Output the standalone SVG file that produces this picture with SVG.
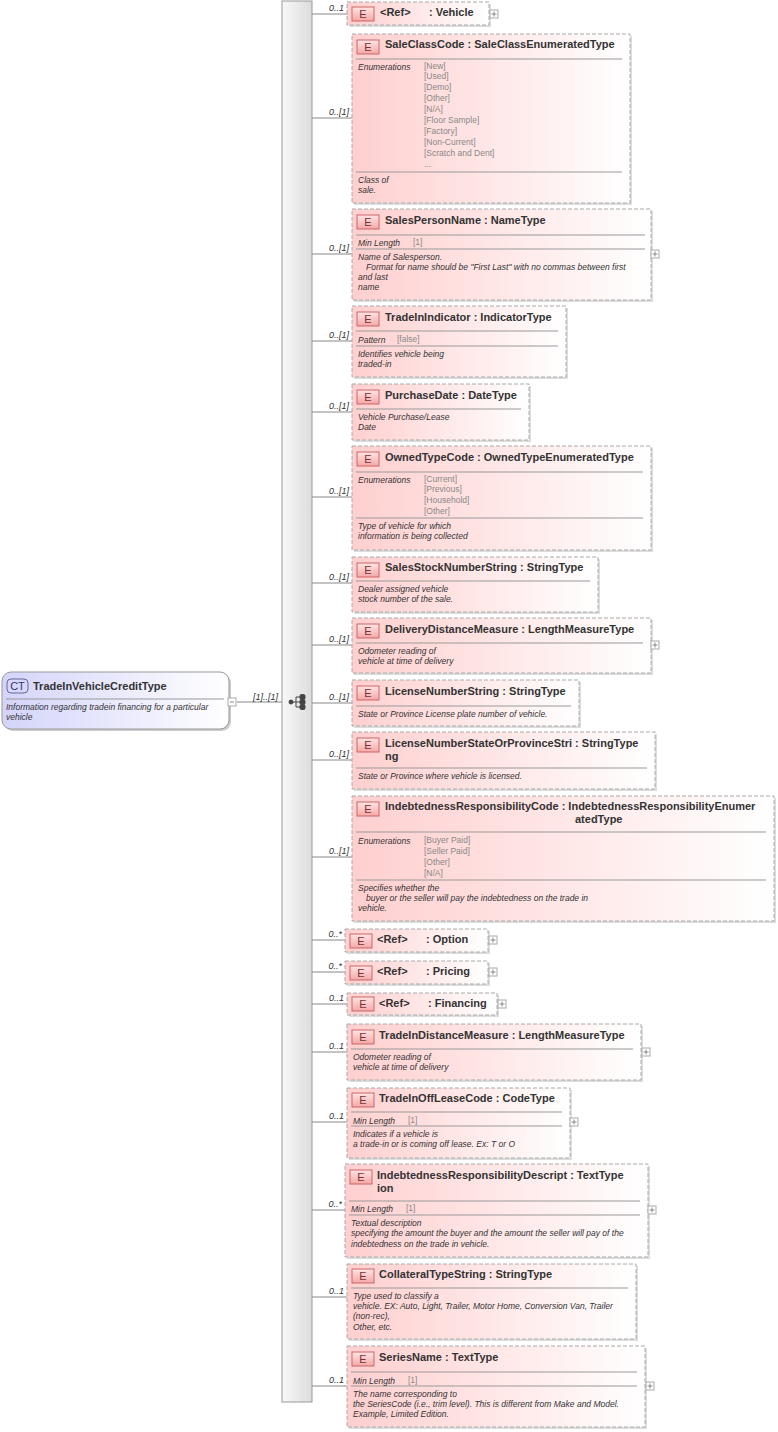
<svg xmlns="http://www.w3.org/2000/svg" width="778" height="1432" viewBox="0 0 778 1432">
<defs>
<linearGradient id="eg" x1="0" y1="0" x2="1" y2="0"><stop offset="0" stop-color="#ffcfcf"/><stop offset="1" stop-color="#ffffff"/></linearGradient>
<linearGradient id="cg" x1="0" y1="0" x2="1" y2="0"><stop offset="0" stop-color="#d4d4fb"/><stop offset="1" stop-color="#ffffff"/></linearGradient>
<linearGradient id="bg" x1="0" y1="0" x2="1" y2="0"><stop offset="0" stop-color="#f8f8f8"/><stop offset="1" stop-color="#dcdcdc"/></linearGradient>
<linearGradient id="badge" x1="0" y1="0" x2="0" y2="1"><stop offset="0" stop-color="#ffe4e4"/><stop offset="1" stop-color="#f4a8a8"/></linearGradient>
<g id="plus"><rect x="-4" y="-4" width="8" height="8" fill="#fff" stroke="#aaa"/><path d="M-2.5 0H2.5M0 -2.5V2.5" stroke="#888"/></g>
</defs>
<style>
.n{fill:url(#eg);stroke:#aaa;stroke-dasharray:4 2}
.sh{fill:#ddd}
.b{fill:url(#badge);stroke:#c66}
.bt{font:11px "Liberation Sans",Arial,sans-serif;fill:#733;text-anchor:middle}
.t{font:bold 11px "Liberation Sans",Arial,sans-serif;fill:#333}
.d{font:italic 8.5px "Liberation Sans",Arial,sans-serif;fill:#333}
.v{font:8.5px "Liberation Sans",Arial,sans-serif;fill:#888}
.m{font:italic 9px "Liberation Sans",Arial,sans-serif;fill:#333;text-anchor:end}
.sep{stroke:#999}
.c{stroke:#888;fill:none}
</style>
<rect x="282" y="1" width="30" height="1401" fill="url(#bg)" stroke="#999"/>
<g id="connectors" class="c">
<path d="M237 702H282"/>
<path d="M312 14H347M312 118H352M312 254H352M312 341H352M312 412H352M312 497H352M312 583H352M312 645H352M312 703H352M312 760H352M312 857H352M312 940H345M312 972H345M312 1004H347M312 1052H347M312 1122H347M312 1210H345M312 1297H347M312 1386H347"/>
</g>
<g id="seqicon" fill="#444" stroke="#444">
<circle cx="291" cy="702" r="2"/><path d="M291 702H296M296 697V707M296 697H301M296 702H301M296 707H301" fill="none"/>
<rect x="300" y="694.5" width="5" height="5" rx="1.5"/><rect x="300" y="699.5" width="5" height="5" rx="1.5"/><rect x="300" y="704.5" width="5" height="5" rx="1.5"/>
</g>
<g id="mult">
<text class="m" x="278" y="700">[1]..[1]</text>
<text class="m" x="344" y="11">0..1</text>
<text class="m" x="349" y="115">0..[1]</text>
<text class="m" x="349" y="251">0..[1]</text>
<text class="m" x="349" y="338">0..[1]</text>
<text class="m" x="349" y="409">0..[1]</text>
<text class="m" x="349" y="494">0..[1]</text>
<text class="m" x="349" y="580">0..[1]</text>
<text class="m" x="349" y="642">0..[1]</text>
<text class="m" x="349" y="700">0..[1]</text>
<text class="m" x="349" y="757">0..[1]</text>
<text class="m" x="349" y="854">0..[1]</text>
<text class="m" x="342" y="937">0..*</text>
<text class="m" x="342" y="969">0..*</text>
<text class="m" x="344" y="1001">0..1</text>
<text class="m" x="344" y="1049">0..1</text>
<text class="m" x="344" y="1119">0..1</text>
<text class="m" x="342" y="1207">0..*</text>
<text class="m" x="344" y="1294">0..1</text>
<text class="m" x="344" y="1383">0..1</text>
</g>
<g id="root">
<rect x="4" y="674" width="227" height="57" rx="9" fill="#ccc"/>
<rect x="2" y="672" width="227" height="57" rx="9" fill="url(#cg)" stroke="#999"/>
<rect x="7" y="679" width="21" height="14" rx="4" fill="#d8d8ff" stroke="#669"/>
<text x="17.5" y="690" style="font:11px 'Liberation Sans',sans-serif;fill:#336;text-anchor:middle">CT</text>
<text class="t" x="33" y="690">TradeInVehicleCreditType</text>
<path class="sep" d="M6 699H224"/>
<text class="d" x="6" y="710">Information regarding tradein financing for a particular</text>
<text class="d" x="6" y="720">vehicle</text>
<rect x="228" y="698" width="8" height="8" fill="#fff" stroke="#aaa"/><path d="M230 702H234" stroke="#888"/>
</g>
<g id="n1"><rect class="sh" x="349" y="4" width="142" height="23"/><rect class="n" x="347" y="2" width="142" height="23"/><rect class="b" x="352" y="7" width="22" height="14"/><text class="bt" x="363" y="18">E</text><text class="t" x="380" y="16">&lt;Ref&gt;</text><text class="t" x="429" y="16">: Vehicle</text><use href="#plus" x="494" y="14"/></g>
<g id="n2"><rect class="sh" x="354" y="36" width="278" height="169"/><rect class="n" x="352" y="34" width="278" height="169"/><rect class="b" x="357" y="40" width="22" height="14"/><text class="bt" x="368" y="51">E</text><text class="t" x="385" y="48">SaleClassCode : SaleClassEnumeratedType</text><path class="sep" d="M356 59H622M356 172H622"/><text class="d" x="358" y="70">Enumerations</text>
<text class="v" x="424" y="69">[New]</text><text class="v" x="424" y="79">[Used]</text><text class="v" x="424" y="90">[Demo]</text><text class="v" x="424" y="101">[Other]</text><text class="v" x="424" y="112">[N/A]</text><text class="v" x="424" y="123">[Floor Sample]</text><text class="v" x="424" y="134">[Factory]</text><text class="v" x="424" y="145">[Non-Current]</text><text class="v" x="424" y="156">[Scratch and Dent]</text><text class="v" x="424" y="167">...</text>
<text class="d" x="358" y="183">Class of</text><text class="d" x="358" y="193">sale.</text></g>
<g id="n3"><rect class="sh" x="354" y="211" width="299" height="91"/><rect class="n" x="352" y="209" width="299" height="91"/><rect class="b" x="357" y="215" width="22" height="14"/><text class="bt" x="368" y="226">E</text><text class="t" x="385" y="224">SalesPersonName : NameType</text><path class="sep" d="M356 235H645M356 249H645"/><text class="d" x="358" y="246">Min Length</text><text class="v" x="413" y="245">[1]</text>
<text class="d" x="358" y="260">Name of Salesperson.</text><text class="d" x="366" y="270">Format for name should be "First Last" with no commas between first</text><text class="d" x="358" y="280">and last</text><text class="d" x="358" y="290">name</text><use href="#plus" x="655" y="254"/></g>
<g id="n4"><rect class="sh" x="354" y="308" width="214" height="71"/><rect class="n" x="352" y="306" width="214" height="71"/><rect class="b" x="357" y="312" width="22" height="14"/><text class="bt" x="368" y="323">E</text><text class="t" x="385" y="321">TradeInIndicator : IndicatorType</text><path class="sep" d="M356 331H558M356 346H558"/><text class="d" x="358" y="343">Pattern</text><text class="v" x="397" y="342">[false]</text><text class="d" x="358" y="357">Identifies vehicle being</text><text class="d" x="358" y="367">traded-in</text></g>
<g id="n5"><rect class="sh" x="354" y="386" width="177" height="56"/><rect class="n" x="352" y="384" width="177" height="56"/><rect class="b" x="357" y="390" width="22" height="14"/><text class="bt" x="368" y="401">E</text><text class="t" x="385" y="399">PurchaseDate : DateType</text><path class="sep" d="M356 409H521"/><text class="d" x="358" y="420">Vehicle Purchase/Lease</text><text class="d" x="358" y="430">Date</text></g>
<g id="n6"><rect class="sh" x="354" y="448" width="299" height="104"/><rect class="n" x="352" y="446" width="299" height="104"/><rect class="b" x="357" y="452" width="22" height="14"/><text class="bt" x="368" y="463">E</text><text class="t" x="385" y="461">OwnedTypeCode : OwnedTypeEnumeratedType</text><path class="sep" d="M356 472H643M356 518H643"/><text class="d" x="358" y="483">Enumerations</text><text class="v" x="424" y="482">[Current]</text><text class="v" x="424" y="492">[Previous]</text><text class="v" x="424" y="503">[Household]</text><text class="v" x="424" y="514">[Other]</text><text class="d" x="358" y="529">Type of vehicle for which</text><text class="d" x="358" y="539">information is being collected</text></g>
<g id="n7"><rect class="sh" x="354" y="559" width="246" height="55"/><rect class="n" x="352" y="557" width="246" height="55"/><rect class="b" x="357" y="563" width="22" height="14"/><text class="bt" x="368" y="574">E</text><text class="t" x="385" y="571">SalesStockNumberString : StringType</text><path class="sep" d="M356 581H590"/><text class="d" x="358" y="592">Dealer assigned vehicle</text><text class="d" x="358" y="602">stock number of the sale.</text></g>
<g id="n8"><rect class="sh" x="354" y="620" width="299" height="55"/><rect class="n" x="352" y="618" width="299" height="55"/><rect class="b" x="357" y="624" width="22" height="14"/><text class="bt" x="368" y="635">E</text><text class="t" x="385" y="633">DeliveryDistanceMeasure : LengthMeasureType</text><path class="sep" d="M356 643H643"/><text class="d" x="358" y="654">Odometer reading of</text><text class="d" x="358" y="664">vehicle at time of delivery</text><use href="#plus" x="655" y="645"/></g>
<g id="n9"><rect class="sh" x="354" y="682" width="227" height="46"/><rect class="n" x="352" y="680" width="227" height="46"/><rect class="b" x="357" y="686" width="22" height="14"/><text class="bt" x="368" y="697">E</text><text class="t" x="385" y="695">LicenseNumberString : StringType</text><path class="sep" d="M356 706H571"/><text class="d" x="358" y="717">State or Province License plate number of vehicle.</text></g>
<g id="n10"><rect class="sh" x="354" y="734" width="303" height="57"/><rect class="n" x="352" y="732" width="303" height="57"/><rect class="b" x="357" y="738" width="22" height="14"/><text class="bt" x="368" y="749">E</text><text class="t" x="385" y="747">LicenseNumberStateOrProvinceStri : StringType</text><text class="t" x="385" y="760">ng</text><path class="sep" d="M356 768H647"/><text class="d" x="358" y="779">State or Province where vehicle is licensed.</text></g>
<g id="n11"><rect class="sh" x="354" y="798" width="422" height="125"/><rect class="n" x="352" y="796" width="422" height="125"/><rect class="b" x="357" y="802" width="22" height="14"/><text class="bt" x="368" y="813">E</text><text class="t" x="385" y="810">IndebtednessResponsibilityCode : IndebtednessResponsibilityEnumer</text><text class="t" x="575" y="823">atedType</text><path class="sep" d="M356 832H766M356 880H766"/><text class="d" x="358" y="844">Enumerations</text><text class="v" x="424" y="843">[Buyer Paid]</text><text class="v" x="424" y="854">[Seller Paid]</text><text class="v" x="424" y="865">[Other]</text><text class="v" x="424" y="876">[N/A]</text><text class="d" x="358" y="891">Specifies whether the</text><text class="d" x="366" y="901">buyer or the seller will pay the indebtedness on the trade in</text><text class="d" x="358" y="911">vehicle.</text></g>
<g id="n12"><rect class="sh" x="347" y="931" width="143" height="23"/><rect class="n" x="345" y="929" width="143" height="23"/><rect class="b" x="350" y="934" width="22" height="14"/><text class="bt" x="361" y="945">E</text><text class="t" x="377" y="943">&lt;Ref&gt;</text><text class="t" x="426" y="943">: Option</text><use href="#plus" x="493" y="940"/></g>
<g id="n13"><rect class="sh" x="347" y="963" width="143" height="23"/><rect class="n" x="345" y="961" width="143" height="23"/><rect class="b" x="350" y="966" width="22" height="14"/><text class="bt" x="361" y="977">E</text><text class="t" x="377" y="975">&lt;Ref&gt;</text><text class="t" x="426" y="975">: Pricing</text><use href="#plus" x="493" y="972"/></g>
<g id="n14"><rect class="sh" x="349" y="995" width="150" height="22"/><rect class="n" x="347" y="993" width="150" height="22"/><rect class="b" x="352" y="997" width="22" height="14"/><text class="bt" x="363" y="1008">E</text><text class="t" x="379" y="1007">&lt;Ref&gt;</text><text class="t" x="428" y="1007">: Financing</text><use href="#plus" x="502" y="1004"/></g>
<g id="n15"><rect class="sh" x="349" y="1026" width="294" height="56"/><rect class="n" x="347" y="1024" width="294" height="56"/><rect class="b" x="352" y="1030" width="22" height="14"/><text class="bt" x="363" y="1041">E</text><text class="t" x="379" y="1039">TradeInDistanceMeasure : LengthMeasureType</text><path class="sep" d="M351 1049H633"/><text class="d" x="353" y="1060">Odometer reading of</text><text class="d" x="353" y="1070">vehicle at time of delivery</text><use href="#plus" x="646" y="1052"/></g>
<g id="n16"><rect class="sh" x="349" y="1090" width="223" height="70"/><rect class="n" x="347" y="1088" width="223" height="70"/><rect class="b" x="352" y="1093" width="22" height="14"/><text class="bt" x="363" y="1104">E</text><text class="t" x="379" y="1102">TradeInOffLeaseCode : CodeType</text><path class="sep" d="M351 1112H562M351 1126H562"/><text class="d" x="353" y="1124">Min Length</text><text class="v" x="408" y="1123">[1]</text><text class="d" x="353" y="1137">Indicates if a vehicle is</text><text class="d" x="353" y="1147">a trade-in or is coming off lease. Ex: T or O</text><use href="#plus" x="574" y="1122"/></g>
<g id="n17"><rect class="sh" x="347" y="1166" width="303" height="93"/><rect class="n" x="345" y="1164" width="303" height="93"/><rect class="b" x="350" y="1170" width="22" height="14"/><text class="bt" x="361" y="1181">E</text><text class="t" x="377" y="1179">IndebtednessResponsibilityDescript : TextType</text><text class="t" x="377" y="1192">ion</text><path class="sep" d="M349 1201H640M349 1215H640"/><text class="d" x="351" y="1212">Min Length</text><text class="v" x="406" y="1211">[1]</text><text class="d" x="351" y="1226">Textual description</text><text class="d" x="351" y="1236">specifying the amount the buyer and the amount the seller will pay of the</text><text class="d" x="351" y="1247">indebtedness on the trade in vehicle.</text><use href="#plus" x="652" y="1210"/></g>
<g id="n18"><rect class="sh" x="349" y="1266" width="289" height="75"/><rect class="n" x="347" y="1264" width="289" height="75"/><rect class="b" x="352" y="1269" width="22" height="14"/><text class="bt" x="363" y="1280">E</text><text class="t" x="379" y="1278">CollateralTypeString : StringType</text><path class="sep" d="M351 1288H628"/><text class="d" x="353" y="1299">Type used to classify a</text><text class="d" x="353" y="1309">vehicle. EX: Auto, Light, Trailer, Motor Home, Conversion Van, Trailer</text><text class="d" x="353" y="1319">(non-rec),</text><text class="d" x="353" y="1330">Other, etc.</text></g>
<g id="n19"><rect class="sh" x="349" y="1348" width="298" height="81"/><rect class="n" x="347" y="1346" width="298" height="81"/><rect class="b" x="352" y="1352" width="22" height="14"/><text class="bt" x="363" y="1363">E</text><text class="t" x="379" y="1361">SeriesName : TextType</text><path class="sep" d="M351 1372H637M351 1386H637"/><text class="d" x="353" y="1384">Min Length</text><text class="v" x="408" y="1383">[1]</text><text class="d" x="353" y="1397">The name corresponding to</text><text class="d" x="353" y="1407">the SeriesCode (i.e., trim level).  This is different from Make and Model.</text><text class="d" x="353" y="1417">Example, Limited Edition.</text><use href="#plus" x="650" y="1386"/></g>
</svg>
